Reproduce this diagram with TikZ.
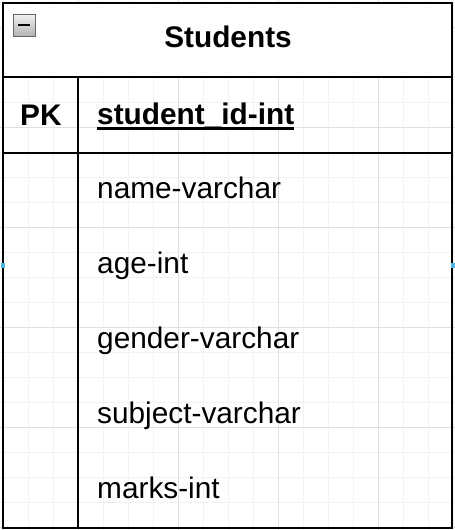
\documentclass[tikz,border=0pt]{standalone}
\usepackage{fontspec}
\setmainfont{Liberation Sans}
\definecolor{minorgrid}{HTML}{F2F2F2}
\definecolor{majorgrid}{HTML}{E0E0E0}
\definecolor{cpblue}{HTML}{4FB8E0}
\begin{document}
\begin{tikzpicture}[x=1pt,y=-1pt,
  fieldtxt/.style={anchor=base west, inner sep=0pt, font=\fontsize{29.8}{34}\selectfont},
  boldtxt/.style={inner sep=0pt, font=\fontsize{29.8}{34}\selectfont\bfseries},
  tableline/.style={line width=2pt, draw=black},
  minorline/.style={draw=minorgrid, line width=0.8pt},
  majorline/.style={draw=majorgrid, line width=0.9pt},
  cpoint/.style={fill=cpblue, draw=none}]
\useasboundingbox (0,0) rectangle (455,530);
\fill[white] (0,0) rectangle (455,530);
% grid
\foreach \i in {0,...,18} \draw[minorline] (3+25*\i,0) -- (3+25*\i,530);
\foreach \j in {0,...,21} \draw[minorline] (0,2+25*\j) -- (455,2+25*\j);
\foreach \i in {78,178,278,378} \draw[majorline] (\i,0) -- (\i,530);
\foreach \j in {27,127,227,327,427,527} \draw[majorline] (0,\j) -- (455,\j);
% table
\fill[white] (3,3) rectangle (452,77);
\draw[tableline] (3,3) rectangle (452,528);
\draw[tableline] (3,77) -- (452,77);
\draw[tableline] (3,153) -- (452,153);
\draw[tableline] (77.5,77) -- (77.5,528);
% collapse icon
\draw[draw=gray!80!black, line width=0.8pt, top color=gray!10, bottom color=gray!60] (13,14) rectangle (35,36);
\draw[line width=2.6pt] (18,25) -- (30,25);
% texts
\node[boldtxt, anchor=base] (title) at (228,47) {Students};
\node[boldtxt, anchor=base west] (pk) at (20,125) {PK};
\node[boldtxt, anchor=base west] (key) at (97,124) {student\_id-int};
\draw[line width=2.6pt] ([yshift=-4.5pt]key.base west) -- ([yshift=-4.5pt]key.base east);
\node[fieldtxt] (f1) at (97,198) {name-varchar};
\node[fieldtxt] (f2) at (97,273) {age-int};
\node[fieldtxt] (f3) at (97,348) {gender-varchar};
\node[fieldtxt] (f4) at (97,423) {subject-varchar};
\node[fieldtxt] (f5) at (97,498) {marks-int};
% connection points
\fill[cpoint] (0.5,262.5) rectangle (4.5,267.5);
\fill[cpoint] (450.5,262.5) rectangle (454.5,267.5);
\end{tikzpicture}
\end{document}
